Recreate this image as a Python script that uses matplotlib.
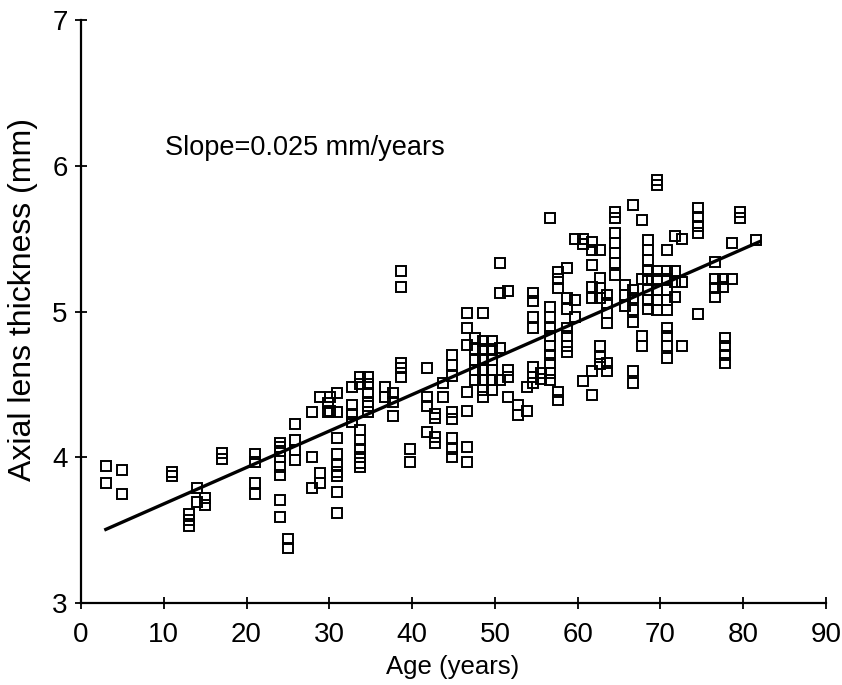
import matplotlib
matplotlib.use("Agg")
import matplotlib.pyplot as plt

plt.rcParams['font.family'] = ['Liberation Sans', 'DejaVu Sans']

# ---- data (age in years, axial lens thickness in mm) ----
age_groups = [
    (3, [3.94, 3.82]),
    (5, [3.91, 3.75]),
    (11, [3.90, 3.87]),
    (13, [3.61, 3.57, 3.53]),
    (14, [3.79, 3.69]),
    (15, [3.72, 3.67]),
    (17, [4.03, 3.99]),
    (21, [4.02, 3.97, 3.82, 3.75]),
    (24, [4.10, 4.07, 4.04, 4.00, 3.93, 3.88, 3.71, 3.59]),
    (25, [3.44, 3.38]),
    (25.8, [4.23, 4.12, 4.05, 3.98]),
    (27.9, [4.31, 4.00, 3.79]),
    (28.9, [4.41, 3.89, 3.82]),
    (29.8, [4.37, 4.31]),
    (30.1, [4.41, 4.32]),
    (30.9, [4.44, 4.31, 4.13, 4.02, 3.95, 3.90, 3.87, 3.76, 3.62]),
    (32.7, [4.48, 4.36, 4.30, 4.24]),
    (33.7, [4.55, 4.50, 4.19, 4.12, 4.06, 4.00, 3.96, 3.93]),
    (34.7, [4.55, 4.50, 4.44, 4.38, 4.35, 4.31]),
    (36.7, [4.48, 4.41]),
    (37.7, [4.44, 4.38, 4.28]),
    (38.6, [5.28, 5.17, 4.65, 4.61, 4.55]),
    (39.7, [4.06, 3.97]),
    (41.8, [4.61, 4.41, 4.35, 4.17]),
    (42.8, [4.30, 4.27, 4.14, 4.10]),
    (43.7, [4.51, 4.41]),
    (44.8, [4.70, 4.63, 4.56, 4.31, 4.26, 4.13, 4.06, 4.00]),
    (46.6, [4.99, 4.89, 4.77, 4.45, 4.32, 4.07, 3.97]),
    (47.6, [4.82, 4.74, 4.67, 4.60, 4.53]),
    (48.6, [4.99, 4.80, 4.74, 4.67, 4.60, 4.53, 4.46, 4.41]),
    (49.6, [4.80, 4.74, 4.67, 4.60, 4.53, 4.46]),
    (50.6, [5.33, 5.13, 4.75, 4.53]),
    (51.6, [5.14, 4.60, 4.55, 4.41]),
    (52.8, [4.36, 4.29]),
    (53.9, [4.48, 4.32]),
    (54.6, [5.13, 5.07, 4.96, 4.89, 4.62, 4.55, 4.51]),
    (55.6, [4.58, 4.54]),
    (56.6, [5.64, 5.03, 4.96, 4.89, 4.83, 4.76, 4.70, 4.65, 4.58, 4.53]),
    (57.6, [5.27, 5.22, 5.16, 4.45, 4.39]),
    (58.7, [5.30, 5.09, 5.02, 4.89, 4.83, 4.76, 4.72]),
    (59.7, [5.50, 5.08, 4.96]),
    (60.6, [5.50, 5.46, 4.52]),
    (61.7, [5.48, 5.42, 5.32, 5.17, 5.09, 4.59, 4.43]),
    (62.7, [5.42, 5.23, 5.16, 5.09, 4.76, 4.69, 4.64]),
    (63.6, [5.11, 5.06, 4.99, 4.92, 4.65, 4.59]),
    (64.5, [5.68, 5.64, 5.54, 5.47, 5.40, 5.33, 5.25]),
    (65.7, [5.18, 5.11, 5.04]),
    (66.7, [5.73, 5.15, 5.09, 5.01, 4.93, 4.59, 4.51]),
    (67.8, [5.63, 5.22, 4.83, 4.76]),
    (68.5, [5.49, 5.42, 5.35, 5.28, 5.22, 5.15, 5.08, 5.02]),
    (69.6, [5.90, 5.87, 5.28, 5.22, 5.15, 5.08, 5.01]),
    (70.8, [5.42, 5.28, 5.22, 5.15, 5.08, 5.01, 4.89, 4.83, 4.76, 4.68]),
    (71.7, [5.52, 5.28, 5.20, 5.10]),
    (72.6, [5.50, 5.20, 4.76]),
    (74.5, [5.71, 5.65, 5.59, 5.54, 4.98]),
    (76.6, [5.34, 5.22, 5.16, 5.10]),
    (77.5, [5.22, 5.17]),
    (77.8, [4.82, 4.76, 4.70, 4.65]),
    (78.6, [5.47, 5.22]),
    (79.6, [5.68, 5.64]),
    (81.6, [5.49]),
]

ages = [a for a, vals in age_groups for _ in vals]
thickness = [v for a, vals in age_groups for v in vals]

fit_age = [3, 82]
fit_thickness = [3.505, 5.48]

x_ticks = [0, 10, 20, 30, 40, 50, 60, 70, 80, 90]
y_ticks = [3, 4, 5, 6, 7]

# ---- figure ----
fig = plt.figure(figsize=(8.42, 6.85), dpi=100)
ax = fig.add_axes([0.0962, 0.1197, 0.8848, 0.8511])

ax.plot(ages, thickness, linestyle='none', marker='s', markersize=6.8,
        markerfacecolor='none', markeredgecolor='black', markeredgewidth=1.4,
        zorder=2)
ax.plot(fit_age, fit_thickness, color='black', linewidth=2.4, zorder=3)

ax.set_xlim(0, 90)
ax.set_ylim(3, 7)
ax.set_xticks(x_ticks)
ax.set_yticks(y_ticks)

for s in ['top', 'right']:
    ax.spines[s].set_visible(False)
for s in ['left', 'bottom']:
    ax.spines[s].set_linewidth(1.6)

ax.tick_params(direction='inout', length=9, width=1.3, labelsize=20,
               colors='black', pad=5)
ax.tick_params(axis='x', pad=9)

ax.set_xlabel('Age (years)', fontsize=18.5)
ax.set_ylabel('Axial lens thickness (mm)', fontsize=23)
ax.xaxis.set_label_coords(0.499, -0.09)
ax.yaxis.set_label_coords(-0.058, 0.52)

ax.text(10.1, 6.12, 'Slope=0.025 mm/years', fontsize=19.5, ha='left',
        va='center')

fig.savefig('out.png', dpi=100)
